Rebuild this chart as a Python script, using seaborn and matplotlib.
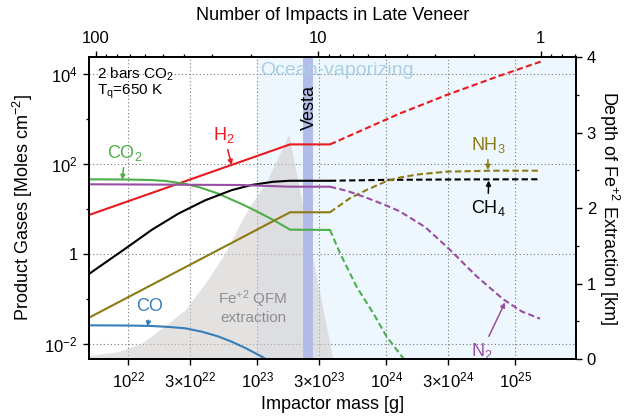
import matplotlib
matplotlib.use("Agg")
import matplotlib.pyplot as plt
import matplotlib.ticker as mticker
import pandas as pd
import seaborn as sns

# ---- product gas columns [mol cm^-2] versus impactor mass [g] ----
# "calc" = computed range, "extrap" = extrapolation past the ocean-vaporizing limit
h2_mass = [4.94e21, 1.79e23, 3.65e23]
h2_amount = [7.4, 272, 272]
h2_mass_x = [3.65e23, 1.27e24, 2.93e24, 7.6e24, 1.57e25]
h2_amount_x = [272, 1318, 3388, 9120, 18620]

co2_mass = [4.94e21, 1.0e22, 1.47e22, 1.92e22, 2.74e22, 3.58e22, 4.94e22, 8.0e22,
            1.045e23, 1.325e23, 1.79e23, 3.65e23]
co2_amount = [45.8, 45.2, 44.2, 42.2, 36.3, 30.2, 22.1, 12.0, 8.2, 5.75, 3.5, 3.45]
co2_mass_x = [3.65e23, 4.37e23, 5.87e23, 7.91e23, 1.005e24, 1.35e24, 1.78e24]
co2_amount_x = [3.45, 1.05, 0.19, 0.049, 0.0148, 0.0049, 0.002]

ch4_mass = [4.94e21, 9.95e21, 1.51e22, 2.43e22, 3.92e22, 6.31e22, 9.02e22,
            1.32e23, 1.79e23, 3.65e23]
ch4_amount = [0.364, 1.47, 3.44, 7.9, 15.6, 26.3, 34.3, 40.3, 42.5, 42.5]
ch4_mass_x = [3.65e23, 1.0e24, 4.0e24, 1.49e25]
ch4_amount_x = [42.5, 44.5, 45.5, 45.8]

nh3_mass = [4.94e21, 1.79e23, 3.65e23]
nh3_amount = [0.039, 8.5, 8.5]
nh3_mass_x = [3.65e23, 5.21e23, 7.08e23, 1.0e24, 1.27e24, 1.78e24, 2.93e24,
              6.34e24, 1.55e25]
nh3_amount_x = [8.5, 17.4, 26.9, 41.7, 50.1, 58.9, 67.6, 71, 71]

n2_mass = [4.94e21, 7.31e22, 1.79e23, 3.65e23]
n2_amount = [35.5, 34.2, 31.4, 31.4]
n2_mass_x = [3.65e23, 5.01e23, 7.03e23, 1.0e24, 1.27e24, 2.0e24, 3.10e24, 5.0e24,
             8.04e24, 1.12e25, 1.55e25]
n2_amount_x = [31.4, 25.1, 17.8, 12.0, 8.9, 3.98, 1.26, 0.324, 0.1, 0.0537, 0.0372]

co_mass = [4.94e21, 1.0e22, 1.51e22, 2.0e22, 2.74e22, 3.72e22, 4.97e22, 6.31e22,
           8.0e22, 1.08e23, 1.37e23]
co_amount = [0.0265, 0.0262, 0.0256, 0.0245, 0.0228, 0.0191, 0.0150, 0.01148,
             0.00841, 0.00537, 0.00355]

# ---- depth of Fe+2 extraction at QFM [km] ----
fe_mass = [4.94e21, 8.3e21, 1.26e22, 1.81e22, 2.74e22, 3.92e22, 5.6e22,
           7.55e22, 9.02e22, 1.18e23, 1.75e23, 2.64e23, 3.85e23]
fe_depth = [0.045, 0.097, 0.208, 0.407, 0.649, 1.0, 1.40, 1.84, 2.06, 2.35,
            2.98, 1.40, 0.0]

# ---- reference masses ----
ocean_vap_mass = 1.0e23
vesta_mass_band = (2.27e23, 2.68e23)

# ---- axis ticks ----
mass_ticks = [1e22, 3e22, 1e23, 3e23, 1e24, 3e24, 1e25]
mass_labels = ["10$^{22}$", "3×10$^{22}$", "10$^{23}$", "3×10$^{23}$",
               "10$^{24}$", "3×10$^{24}$", "10$^{25}$"]
gas_ticks = [1e-2, 1, 1e2, 1e4]
gas_labels = ["10$^{-2}$", "1", "10$^{2}$", "10$^{4}$"]
impact_ticks = [100, 10, 1]
impact_labels = ["100", "10", "1"]
depth_ticks = [0, 1, 2, 3, 4]

colors = {
    "H2": "#e8191f",
    "CO2": "#4daf4a",
    "CH4": "#000000",
    "NH3": "#8b7b16",
    "N2": "#984ea3",
    "CO": "#377eb8",
}

series = {
    "H2": [(h2_mass, h2_amount), (h2_mass_x, h2_amount_x)],
    "CO2": [(co2_mass, co2_amount), (co2_mass_x, co2_amount_x)],
    "CH4": [(ch4_mass, ch4_amount), (ch4_mass_x, ch4_amount_x)],
    "NH3": [(nh3_mass, nh3_amount), (nh3_mass_x, nh3_amount_x)],
    "N2": [(n2_mass, n2_amount), (n2_mass_x, n2_amount_x)],
    "CO": [(co_mass, co_amount)],
}
rows = []
for name, segs in series.items():
    for seg, (m, a) in zip(["calc", "extrap"], segs):
        for mi, ai in zip(m, a):
            rows.append({"mass": mi, "amount": ai, "species": name, "range": seg})
df = pd.DataFrame(rows)

sns.set_theme(style="ticks", rc={
    "axes.edgecolor": "black",
    "axes.linewidth": 1.1,
    "text.color": "black",
    "axes.labelcolor": "black",
    "xtick.color": "black",
    "ytick.color": "black",
    "xtick.direction": "out",
    "ytick.direction": "out",
    "xtick.major.size": 4.5,
    "ytick.major.size": 4.5,
    "xtick.minor.size": 2.4,
    "ytick.minor.size": 2.4,
    "xtick.major.width": 1.0,
    "ytick.major.width": 1.0,
    "xtick.minor.width": 0.9,
    "ytick.minor.width": 0.9,
    "xtick.labelsize": 12,
    "ytick.labelsize": 12,
    "axes.labelsize": 13,
    "mathtext.fontset": "custom",
    "mathtext.rm": "Liberation Sans",
    "mathtext.it": "Liberation Sans:italic",
    "mathtext.bf": "Liberation Sans:bold",
    "mathtext.default": "regular",
})
plt.rcParams["font.family"] = ["Liberation Sans", "DejaVu Sans"]

fig = plt.figure(figsize=(6.42, 4.18), dpi=100)
ax = fig.add_axes([0.1386, 0.1411, 0.7581, 0.7225])
ax.set_xscale("log")
ax.set_yscale("log")
ax.set_xlim(4.943e21, 2.931e25)
ax.set_ylim(4.74e-3, 2.355e4)

# right axis: extraction depth
ax2 = ax.twinx()
ax2.set_ylim(0, 4)

# background regions
ax.axvspan(ocean_vap_mass, ax.get_xlim()[1], color="#eef7fd", zorder=0.1, lw=0)
ax.set_axisbelow(True)
ax.grid(True, which="major", linestyle=(0, (1, 2.2)), color="#777777", lw=0.8)
ax.fill_between(fe_mass, 0, fe_depth, transform=ax2.transData,
                color="#cfcaca", alpha=0.55, lw=0, zorder=1)
ax.axvspan(*vesta_mass_band, color="#b3bce8", zorder=1.2, lw=0)

sns.lineplot(data=df, x="mass", y="amount", hue="species", style="range",
             palette=colors, dashes={"calc": "", "extrap": (3, 1.6)},
             estimator=None, sort=False, lw=1.5, legend=False, ax=ax, zorder=3)

# axis ticks and labels
ax.xaxis.set_major_locator(mticker.FixedLocator(mass_ticks))
ax.xaxis.set_major_formatter(mticker.FixedFormatter(mass_labels))
ax.xaxis.set_minor_locator(mticker.NullLocator())
ax.yaxis.set_major_locator(mticker.FixedLocator(gas_ticks))
ax.yaxis.set_major_formatter(mticker.FixedFormatter(gas_labels))
ax.yaxis.set_minor_locator(mticker.FixedLocator([1e-1, 1e1, 1e3]))
ax.yaxis.set_minor_formatter(mticker.NullFormatter())
ax.set_xlabel("Impactor mass [g]", labelpad=4)
ax.set_ylabel("Product Gases [Moles cm$^{-2}$]", labelpad=7)

ax2.yaxis.set_major_locator(mticker.FixedLocator(depth_ticks))
ax2.yaxis.set_minor_locator(mticker.MultipleLocator(0.5))
ax2.set_ylabel("Depth of Fe$^{+2}$ Extraction [km]", rotation=270,
               labelpad=18, fontsize=13)
ax2.tick_params(axis="y", labelsize=12)

# top axis: number of impacts delivering the late veneer
ax3 = ax.twiny()
ax3.set_xscale("log")
ax3.set_xlim(107.4, 0.697)
ax3.xaxis.set_major_locator(mticker.FixedLocator(impact_ticks))
ax3.xaxis.set_major_formatter(mticker.FixedFormatter(impact_labels))
ax3.xaxis.set_minor_locator(mticker.FixedLocator(
    [90, 80, 70, 60, 50, 40, 30, 20, 9, 8, 7, 6, 5, 4, 3, 2, 0.9, 0.8, 0.7]))
ax3.xaxis.set_minor_formatter(mticker.NullFormatter())
ax3.set_xlabel("Number of Impacts in Late Veneer", labelpad=8, fontsize=13)
ax3.tick_params(axis="x", labelsize=12)

for a in (ax, ax2, ax3):
    for s in a.spines.values():
        s.set_linewidth(1.1)

# text annotations
ax.text(0.016, 0.943, "2 bars CO$_2$", transform=ax.transAxes, fontsize=11,
        ha="left", va="center")
ax.text(0.016, 0.884, "T$_q$=650 K", transform=ax.transAxes, fontsize=11,
        ha="left", va="center")
ax.text(1.045e23, 1.21e4, "Ocean-vaporizing", color="#a8cfe6", fontsize=14,
        ha="left", va="center", zorder=1.5)
ax.text(2.51e23, 1746, "Vesta", rotation=90, fontsize=13, ha="center",
        va="center", zorder=4)
ax.text(9.23e22, 0.0675, "Fe$^{+2}$ QFM\nextraction", color="#8e8e8e",
        fontsize=11, ha="center", va="center", linespacing=1.1, zorder=4)


def label(text, tip, pos, color):
    ax.annotate(text, xy=tip, xytext=pos, color=color, fontsize=13,
                ha="center", va="center", zorder=5,
                arrowprops=dict(arrowstyle="-|>", color=color, lw=1.1,
                                shrinkA=1, shrinkB=0, mutation_scale=7))


label("CO$_2$", (8.96e21, 44.5), (9.4e21, 175), colors["CO2"])
label("H$_2$", (6.31e22, 95), (5.5e22, 440), colors["H2"])
label("CO", (1.41e22, 0.0247), (1.47e22, 0.0675), colors["CO"])
label("NH$_3$", (6.12e24, 74), (6.12e24, 264), colors["NH3"])
label("CH$_4$", (6.2e24, 43), (6.12e24, 10.6), colors["CH4"])
label("N$_2$", (8.3e24, 0.085), (5.5e24, 0.0072), colors["N2"])

fig.savefig("out.png", dpi=100, facecolor="white")
